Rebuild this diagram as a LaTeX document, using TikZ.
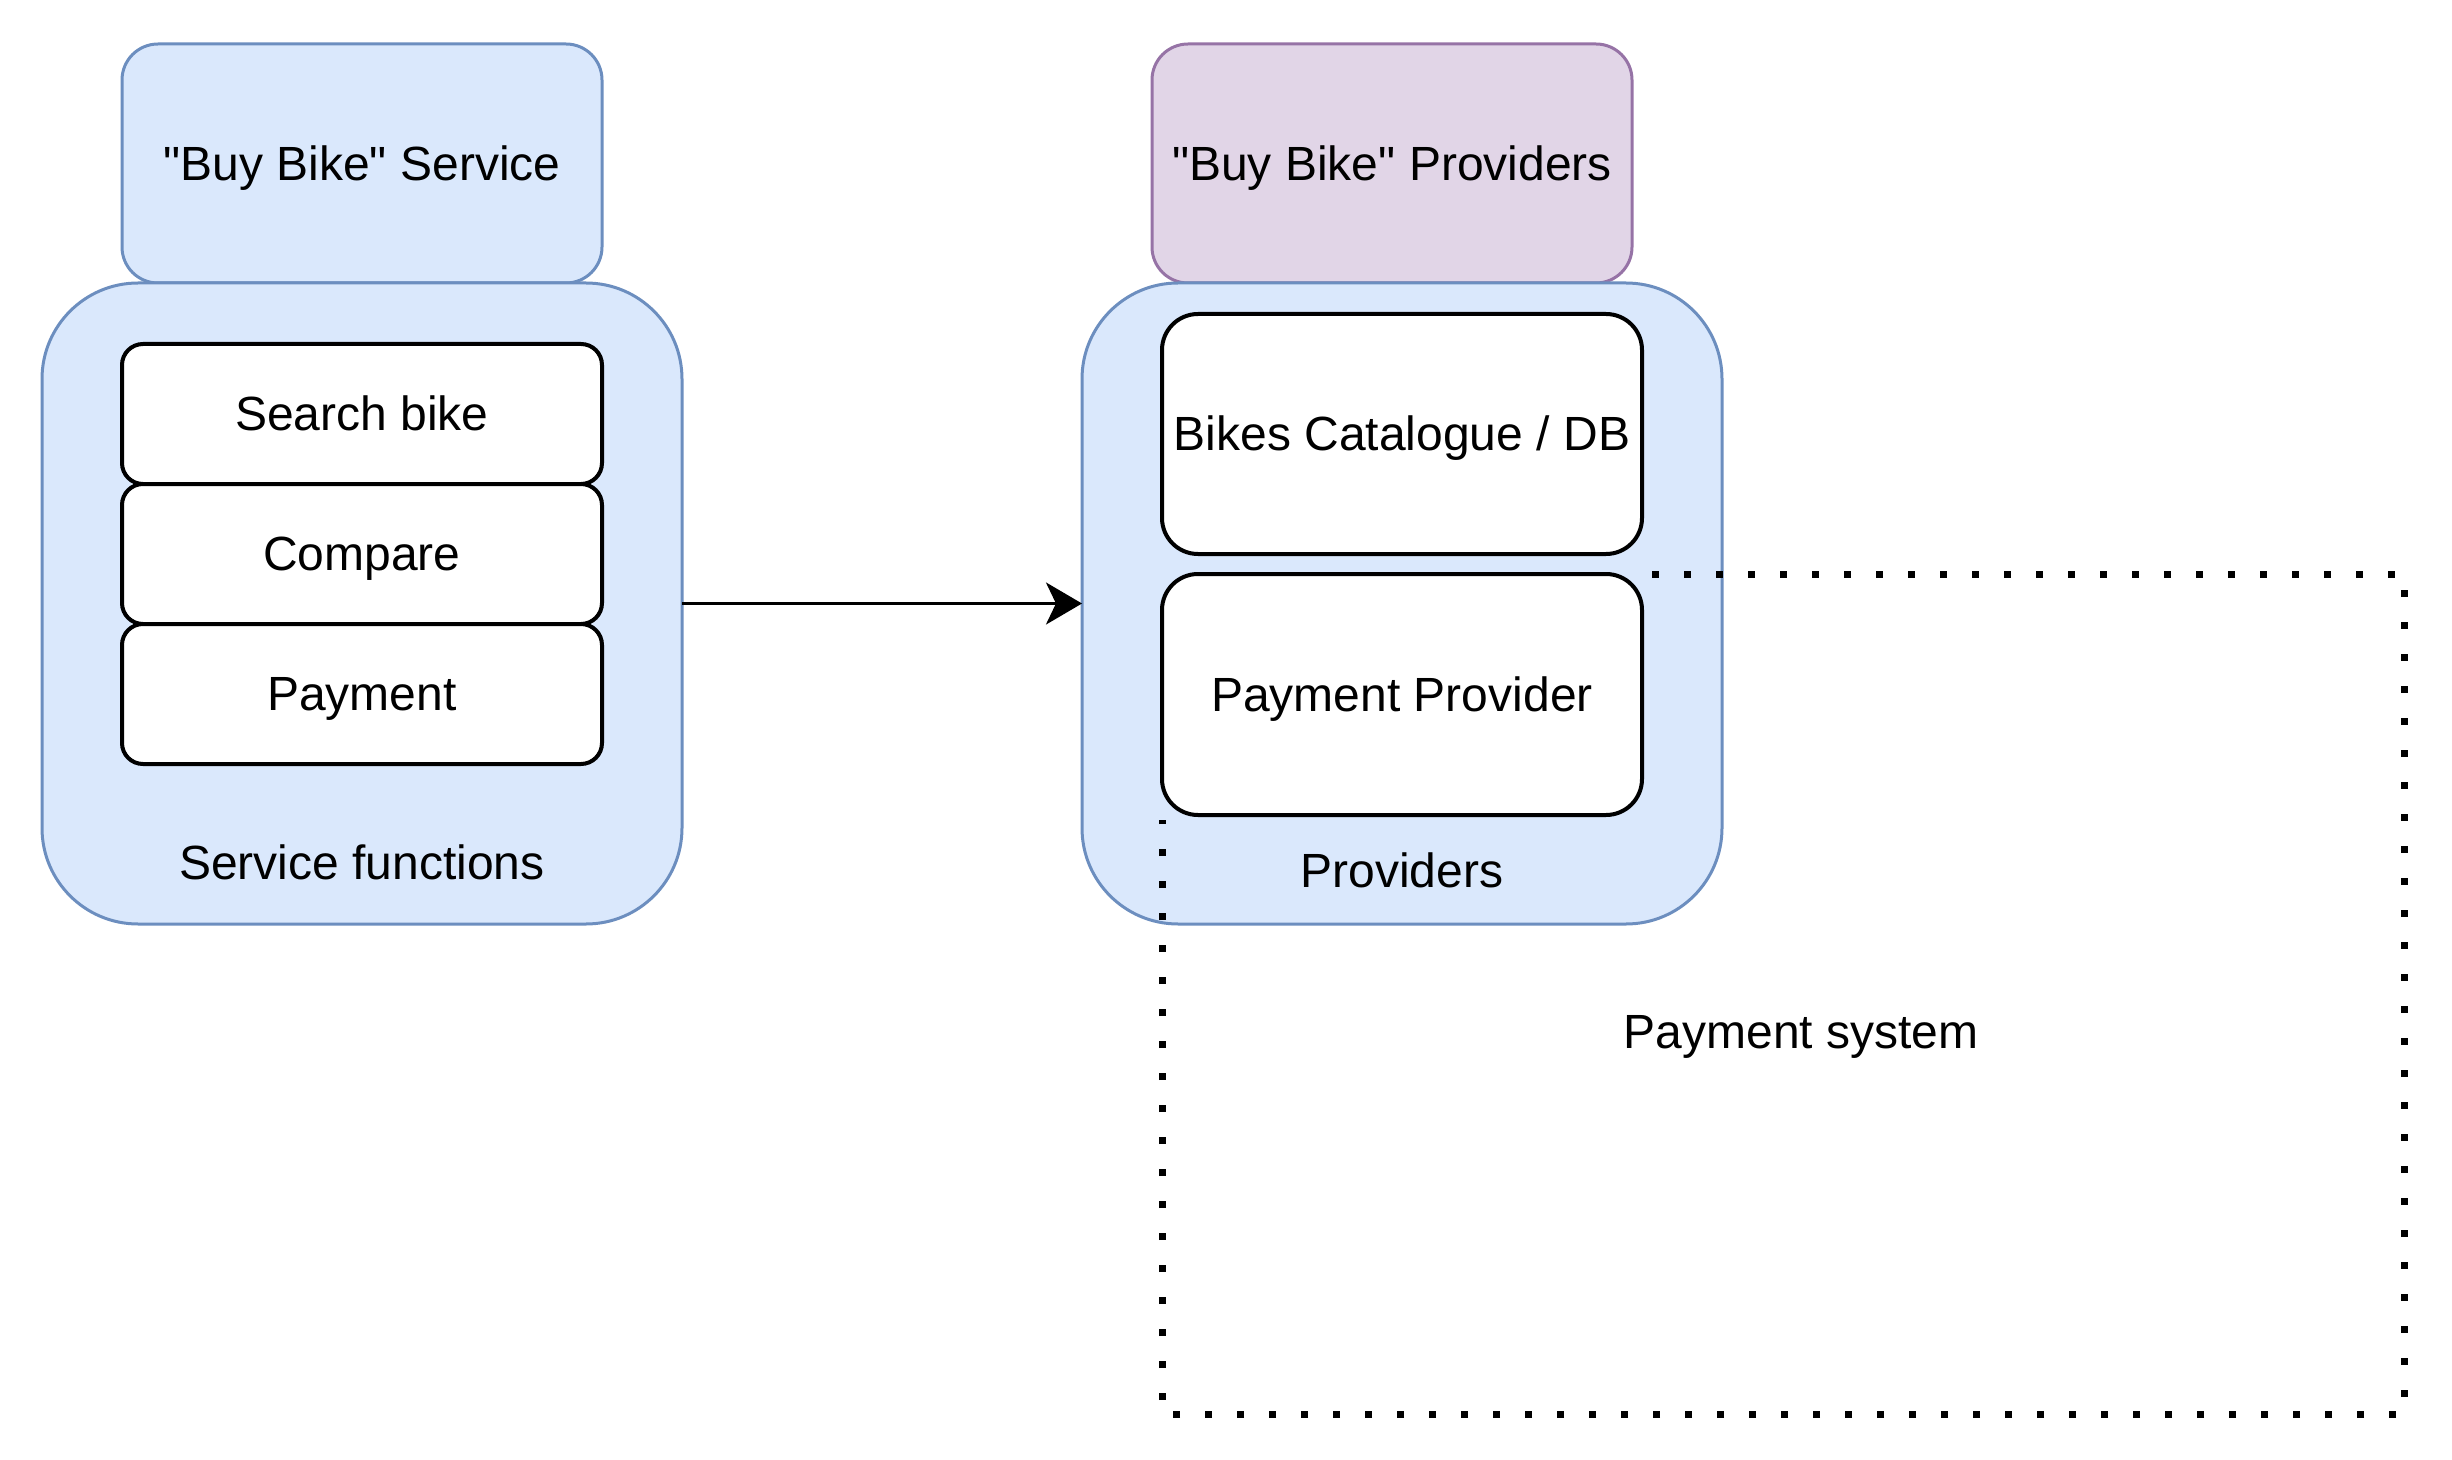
\documentclass[tikz,border=0pt]{standalone}
\usepackage{fontspec}
\setmainfont{Liberation Sans}[Ligatures=TeXOff]
\usetikzlibrary{arrows.meta}
\definecolor{bluefill}{HTML}{DAE8FC}
\definecolor{bluestroke}{HTML}{6C8EBF}
\definecolor{purplefill}{HTML}{E1D5E7}
\definecolor{purplestroke}{HTML}{9673A6}
\tikzset{
  basebox/.style={inner sep=0pt, outer sep=0pt, align=center, font=\fontsize{24}{29}\selectfont, text height=21.7pt, text depth=5.1pt},
  headbox/.style={basebox, draw=bluestroke, fill=bluefill, line width=1.5pt, rounded corners=18pt, minimum width=240pt, minimum height=119.5pt},
  headpurple/.style={headbox, draw=purplestroke, fill=purplefill},
  groupbox/.style={basebox, draw=bluestroke, fill=bluefill, line width=1.5pt, rounded corners=48pt, minimum width=320pt, minimum height=320.5pt},
  itembox/.style={basebox, draw=black, fill=white, line width=2pt, rounded corners=10.5pt, minimum width=240pt, minimum height=70pt},
  bigitem/.style={itembox, rounded corners=18pt, minimum height=120pt},
  lbl/.style={basebox},
  dotbox/.style={draw=black, line width=3.5pt, dash pattern=on 3.5pt off 12.5pt},
  conn/.style={draw=black, line width=1.6pt, -{Stealth[length=18pt, width=21pt, inset=5pt]}}
}
\begin{document}
\begin{tikzpicture}[x=0.5pt, y=-0.5pt]
\useasboundingbox (0,0) rectangle (2452,1460);
% left group
\node[headbox] (sv) at (362,163.5) {"Buy Bike" Service};
\node[groupbox] (sf) at (362,603.5) {};
\node[itembox] (s1) at (362,414) {Search bike};
\node[itembox] (s2) at (362,554) {Compare};
\node[itembox] (s3) at (362,694) {Payment};
\node[lbl] (sfl) at (362,863) {Service functions};
% right group
\node[headpurple] (pv) at (1392,163.5) {"Buy Bike" Providers};
\node[groupbox] (po) at (1402,603.5) {};
\coordinate (d1) at (1652,574);
\coordinate (d2) at (2404,574);
\coordinate (d3) at (2404,1414);
\coordinate (d4) at (1162,1414);
\coordinate (d5) at (1162,820);
\draw[dotbox] (d1) -- (d2) -- (d3) -- (d4) -- (d5);
\node[lbl] (psl) at (1801,1032) {Payment system};
\node[bigitem] (bc) at (1402,434) {Bikes Catalogue / DB};
\node[bigitem, minimum height=120.5pt] (pp) at (1402,694.5) {Payment Provider};
\node[lbl] (pol) at (1402,871) {Providers};
% connector
\draw[conn] (sf.east) -- (po.west);
\end{tikzpicture}
\end{document}
